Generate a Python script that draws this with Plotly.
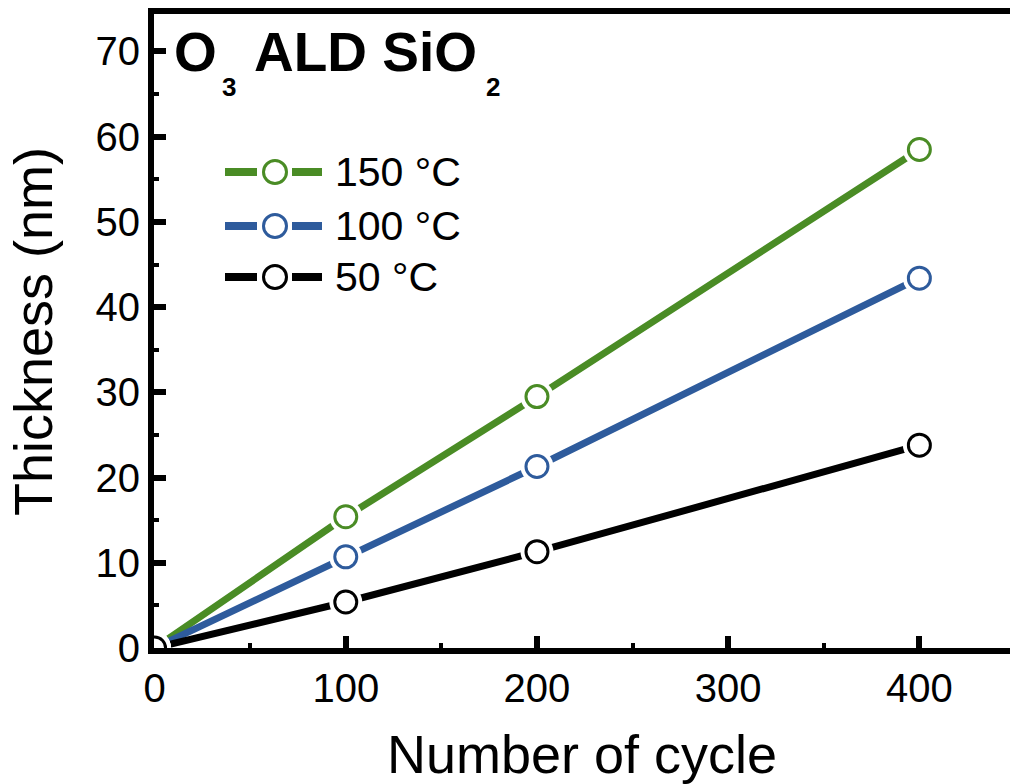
import plotly.graph_objects as go

# ---- data ----
cycles = [0, 100, 200, 400]
t150 = [0, 15.4, 29.5, 58.5]
t100 = [0, 10.7, 21.3, 43.4]
t50 = [0, 5.4, 11.3, 23.8]
series_names = ["150 °C", "100 °C", "50 °C"]
series_colors = ["#4A8C25", "#2E5B9C", "#000000"]
x_ticks = [0, 100, 200, 300, 400]
y_ticks = [0, 10, 20, 30, 40, 50, 60, 70]

W, H = 1010, 784
L, R, T, B = 154, 0, 14, 136
FONT = "Liberation Sans, Arial, sans-serif"


def px_to_paper_x(px):
    return (px - L) / (W - L - R)


def px_to_paper_y(py):
    return (H - B - py) / (H - T - B)


fig = go.Figure()
all_series = [t150, t100, t50]
for vals, name, col in zip(all_series, series_names, series_colors):
    fig.add_trace(go.Scatter(x=cycles, y=vals, mode="lines", line=dict(color=col, width=7),
                             showlegend=False, hoverinfo="skip"))
for vals, name, col in zip(all_series, series_names, series_colors):
    fig.add_trace(go.Scatter(x=cycles, y=vals, mode="markers",
                             marker=dict(size=33, color="white", line=dict(width=0)),
                             showlegend=False, hoverinfo="skip"))
    fig.add_trace(go.Scatter(x=cycles, y=vals, mode="markers", name=name,
                             marker=dict(size=22, color="white", line=dict(color=col, width=3)),
                             showlegend=False))

# manual legend
shapes = []
annotations = []
row_y = [172, 226, 277]
for ry, name, col in zip(row_y, series_names, series_colors):
    yp = px_to_paper_y(ry)
    for a, b in [(225, 257), (292, 322)]:
        shapes.append(dict(type="line", xref="paper", yref="paper",
                           x0=px_to_paper_x(a), x1=px_to_paper_x(b), y0=yp, y1=yp,
                           line=dict(color=col, width=8)))
    shapes.append(dict(type="circle", xref="paper", yref="paper",
                       xsizemode="pixel", ysizemode="pixel",
                       xanchor=px_to_paper_x(275), yanchor=yp,
                       x0=-11.5, x1=11.5, y0=-11.5, y1=11.5,
                       line=dict(color=col, width=3), fillcolor="white"))
    annotations.append(dict(text=name, xref="paper", yref="paper",
                            x=px_to_paper_x(333), y=yp, xanchor="left", yanchor="middle",
                            showarrow=False, font=dict(family=FONT, size=41, color="black")))

# title pieces (with lowered subscripts)
title_parts = [("<b>O</b>", 172, 52, 55), ("<b>3</b>", 220, 87, 26),
               ("<b>ALD SiO</b>", 252, 52, 55), ("<b>2</b>", 484, 87, 26)]
for txt, xp, yc, sz in title_parts:
    annotations.append(dict(text=txt, xref="paper", yref="paper",
                            x=px_to_paper_x(xp), y=px_to_paper_y(yc), xanchor="left", yanchor="middle",
                            showarrow=False, font=dict(family=FONT, size=sz, color="black")))

annotations.append(dict(text="Number of cycle", xref="paper", yref="paper",
                        x=px_to_paper_x(582), y=px_to_paper_y(786), xanchor="center", yanchor="bottom",
                        showarrow=False, font=dict(family=FONT, size=54, color="black")))
annotations.append(dict(text="Thickness (nm)", xref="paper", yref="paper", textangle=-90,
                        x=px_to_paper_x(1), y=px_to_paper_y(332), xanchor="left", yanchor="middle",
                        showarrow=False, font=dict(family=FONT, size=54, color="black")))

axis_common = dict(showline=True, linecolor="black", linewidth=6, ticks="inside",
                   ticklen=12, tickwidth=6, tickcolor="black", showgrid=False, zeroline=False,
                   tickfont=dict(family=FONT, size=40, color="black"))

fig.update_layout(
    width=W, height=H, autosize=False,
    margin=dict(l=L, r=R, t=T, b=B, pad=0),
    plot_bgcolor="white", paper_bgcolor="white",
    shapes=shapes, annotations=annotations,
    xaxis=dict(range=[-0.3, 447.4], tickvals=x_ticks, mirror=True,
               minor=dict(dtick=50, tick0=0, ticks="inside", ticklen=5, tickwidth=4, tickcolor="black"),
               **axis_common),
    yaxis=dict(range=[0, 74.4], tickvals=y_ticks,
               minor=dict(dtick=5, tick0=0, ticks="inside", ticklen=5, tickwidth=4, tickcolor="black"),
               **axis_common),
)

fig.write_html("out.html")
